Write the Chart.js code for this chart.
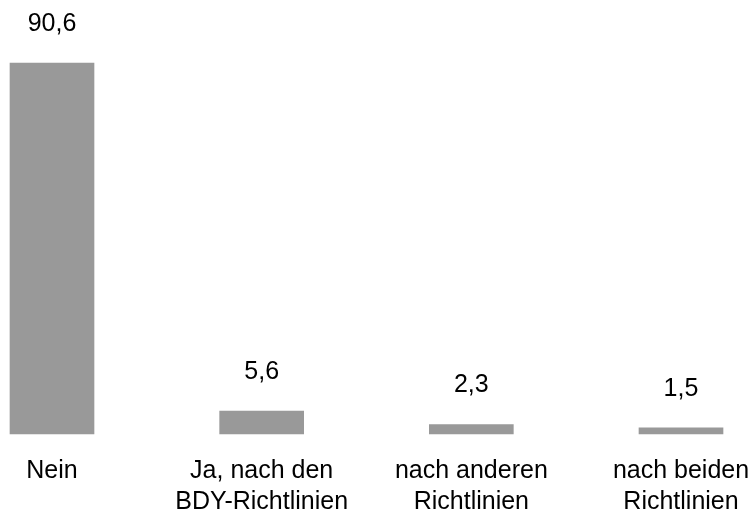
<!DOCTYPE html>
<html lang="de">
<head>
    <meta charset="UTF-8">
    <title>Richtlinien</title>
    <script src="https://cdn.jsdelivr.net/npm/chart.js"></script>
    <style>
        html, body { margin: 0; padding: 0; background: #fff; }
        #wrap { width: 756px; height: 515px; }
    </style>
</head>
<body>
    <div id="wrap"><canvas id="barChart"></canvas></div>

    <script>
        // Antwortkategorien und Anteile in Prozent
        const categories = [
            'Nein',
            ['Ja, nach den', 'BDY-Richtlinien'],
            ['nach anderen', 'Richtlinien'],
            ['nach beiden', 'Richtlinien']
        ];
        const values = [90.6, 5.6, 2.3, 1.5];

        Chart.defaults.font.family = '"Liberation Sans", Arial, sans-serif';
        Chart.defaults.color = '#000';

        // Zahlen über den Balken, mit Dezimalkomma
        const valueLabels = {
            id: 'valueLabels',
            afterDatasetsDraw(chart) {
                const ctx = chart.ctx;
                const meta = chart.getDatasetMeta(0);
                ctx.save();
                ctx.font = '25px "Liberation Sans", Arial, sans-serif';
                ctx.fillStyle = '#000';
                ctx.textAlign = 'center';
                ctx.textBaseline = 'middle';
                meta.data.forEach((bar, i) => {
                    const txt = values[i].toFixed(1).replace('.', ',');
                    ctx.fillText(txt, bar.x, bar.y - 39);
                });
                ctx.restore();
            }
        };

        const ctx = document.getElementById('barChart').getContext('2d');
        new Chart(ctx, {
            type: 'bar',
            data: {
                labels: categories,
                datasets: [{
                    data: values,
                    backgroundColor: '#999999',
                    borderWidth: 0,
                    barThickness: 84,
                    clip: false
                }]
            },
            options: {
                responsive: true,
                maintainAspectRatio: false,
                animation: false,
                layout: { padding: { top: 63, left: 52, right: 75, bottom: -25 } },
                plugins: {
                    legend: { display: false },
                    tooltip: { enabled: false }
                },
                scales: {
                    x: {
                        offset: false,
                        grid: { display: false, drawTicks: false },
                        border: { display: false },
                        ticks: {
                            padding: 22,
                            maxRotation: 0,
                            autoSkip: false,
                            font: { size: 25, lineHeight: 1.24 }
                        },
                        // Randlabels dürfen den Plotbereich nicht verschieben
                        afterFit(scale) {
                            scale.paddingLeft = 0;
                            scale.paddingRight = 0;
                        }
                    },
                    y: {
                        display: false,
                        min: 0,
                        max: 90.6
                    }
                }
            },
            plugins: [valueLabels]
        });
    </script>
</body>
</html>
